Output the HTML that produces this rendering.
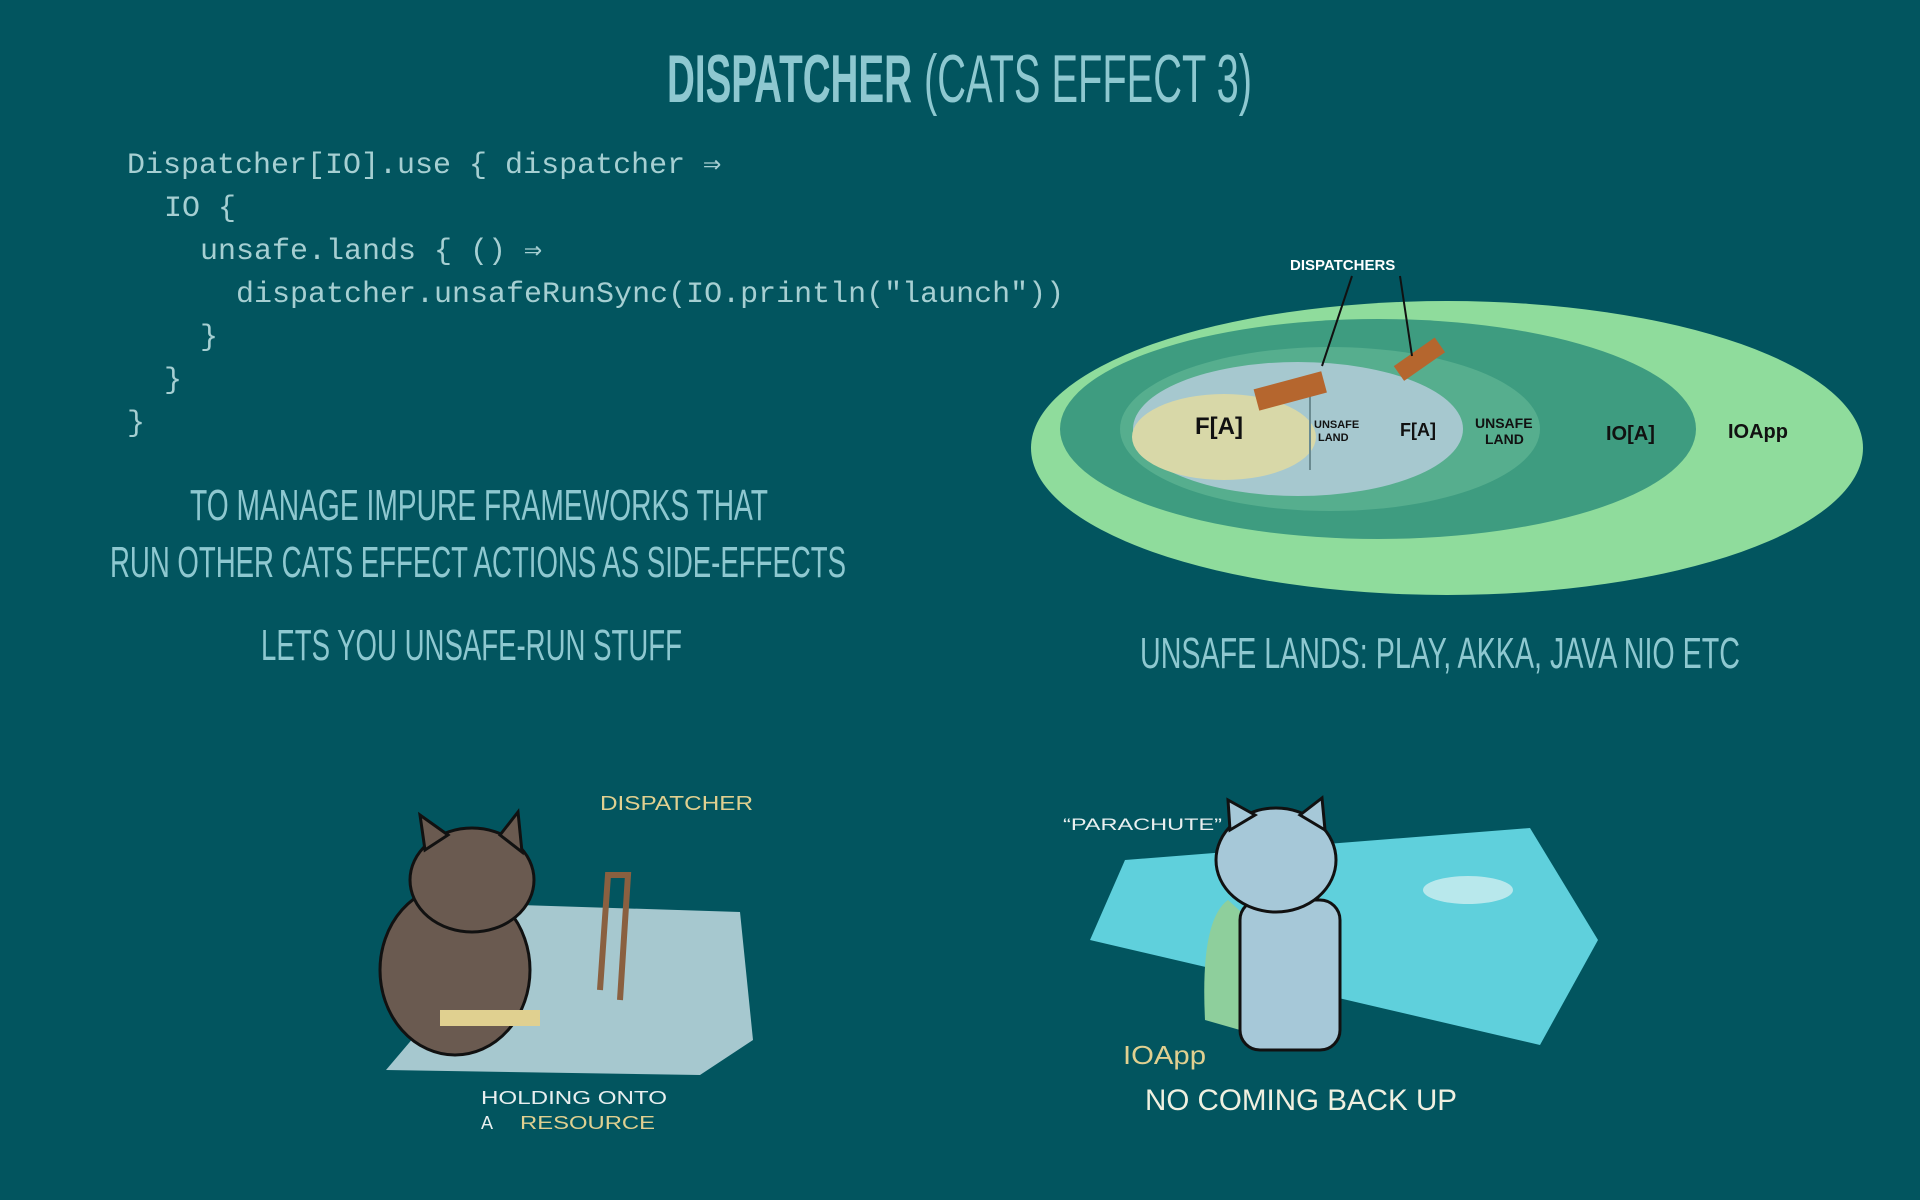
<!DOCTYPE html>
<html><head><meta charset="utf-8"><style>
html,body{margin:0;padding:0;background:#02555f;width:1920px;height:1200px;overflow:hidden}
svg{position:absolute;left:0;top:0}
</style></head><body>
<svg width="1920" height="1200" viewBox="0 0 1920 1200" xmlns="http://www.w3.org/2000/svg">
<rect width="1920" height="1200" fill="#02555f"/>
<g font-family="Liberation Sans Narrow, Liberation Sans, sans-serif" fill="#8ec8d0">
<text x="667" y="102" font-size="68" font-weight="bold" textLength="245" lengthAdjust="spacingAndGlyphs">DISPATCHER</text>
<text x="924" y="102" font-size="68" textLength="328" lengthAdjust="spacingAndGlyphs">(CATS EFFECT 3)</text>
<text x="190" y="520" font-size="44" textLength="578" lengthAdjust="spacingAndGlyphs">TO MANAGE IMPURE FRAMEWORKS THAT</text>
<text x="110" y="577" font-size="44" textLength="736" lengthAdjust="spacingAndGlyphs">RUN OTHER CATS EFFECT ACTIONS AS SIDE-EFFECTS</text>
<text x="261" y="660" font-size="44" textLength="421" lengthAdjust="spacingAndGlyphs">LETS YOU UNSAFE-RUN STUFF</text>
<text x="1140" y="668" font-size="44" textLength="600" lengthAdjust="spacingAndGlyphs">UNSAFE LANDS: PLAY, AKKA, JAVA NIO ETC</text>
</g>
<g font-family="Liberation Mono, DejaVu Sans Mono, monospace" font-size="30" fill="#a6cfd2" xml:space="preserve">
<text x="127" y="173">Dispatcher[IO].use { dispatcher ⇒</text>
<text x="164" y="216">IO {</text>
<text x="200" y="259">unsafe.lands { () ⇒</text>
<text x="236" y="302">dispatcher.unsafeRunSync(IO.println("launch"))</text>
<text x="200" y="345">}</text>
<text x="164" y="388">}</text>
<text x="127" y="431">}</text>
</g>
<!-- island -->
<ellipse cx="1447" cy="448" rx="416" ry="147" fill="#8fdc9c"/>
<ellipse cx="1378" cy="429" rx="318" ry="110" fill="#3e9c80"/>
<ellipse cx="1330" cy="429" rx="210" ry="82" fill="#56ae8e"/>
<ellipse cx="1298" cy="429" rx="165" ry="67" fill="#a6c8cf"/>
<ellipse cx="1224" cy="437" rx="92" ry="43" fill="#d8d8a8"/>
<line x1="1310" y1="395" x2="1310" y2="470" stroke="#6a8a90" stroke-width="2"/>
<rect x="1255" y="380" width="70" height="22" fill="#b5662e" transform="rotate(-15 1290 390)"/>
<rect x="1395" y="350" width="50" height="18" fill="#b5662e" transform="rotate(-35 1420 360)"/>
<g font-family="Liberation Sans, sans-serif" font-weight="bold" fill="#111">
<text x="1195" y="434" font-size="24">F[A]</text>
<text x="1314" y="428" font-size="11">UNSAFE</text><text x="1318" y="441" font-size="11">LAND</text>
<text x="1400" y="436" font-size="18">F[A]</text>
<text x="1475" y="428" font-size="14">UNSAFE</text><text x="1485" y="444" font-size="14">LAND</text>
<text x="1606" y="440" font-size="20">IO[A]</text>
<text x="1728" y="438" font-size="20">IOApp</text>
</g>
<text x="1290" y="270" font-family="Liberation Sans, sans-serif" font-size="15" font-weight="bold" fill="#fff">DISPATCHERS</text>
<path d="M1352 276 L1322 366 M1400 276 L1412 356" stroke="#111" stroke-width="2" fill="none"/>
<!-- left illustration -->
<path d="M420 1030 L520 905 L740 912 L753 1040 L700 1075 L386 1070 Z" fill="#a6c8cf"/>
<path d="M600 990 L608 875 L628 875 L620 1000" fill="none" stroke="#8a6040" stroke-width="6"/>
<ellipse cx="455" cy="970" rx="75" ry="85" fill="#6a5a50" stroke="#111" stroke-width="3"/>
<ellipse cx="472" cy="880" rx="62" ry="52" fill="#6a5a50" stroke="#111" stroke-width="3"/>
<path d="M425 850 L420 815 L448 835 Z M500 835 L518 812 L522 852 Z" fill="#6a5a50" stroke="#111" stroke-width="3"/>
<rect x="440" y="1010" width="100" height="16" fill="#e0d090"/>
<g font-family="Liberation Sans, sans-serif" fill="#e0d090">
<text x="600" y="810" font-size="20" textLength="153" lengthAdjust="spacingAndGlyphs">DISPATCHER</text>
<text x="481" y="1104" font-size="18" fill="#e8efef" textLength="186" lengthAdjust="spacingAndGlyphs">HOLDING ONTO</text>
<text x="481" y="1129" font-size="18" fill="#e8efef">A</text>
<text x="520" y="1129" font-size="18" textLength="135" lengthAdjust="spacingAndGlyphs">RESOURCE</text>
</g>
<!-- right illustration -->
<path d="M1125 860 L1530 828 L1598 940 L1540 1045 L1090 940 Z" fill="#5fd0dc"/>
<ellipse cx="1468" cy="890" rx="45" ry="14" fill="#b8e8ec"/>
<path d="M1228 900 Q1200 920 1205 1020 L1240 1030 L1250 920 Z" fill="#8ecf9c"/>
<rect x="1240" y="900" width="100" height="150" rx="20" fill="#a6c8d8" stroke="#111" stroke-width="3"/>
<ellipse cx="1276" cy="860" rx="60" ry="52" fill="#a6c8d8" stroke="#111" stroke-width="3"/>
<path d="M1230 830 L1228 800 L1255 815 Z M1300 815 L1322 798 L1325 830 Z" fill="#a6c8d8" stroke="#111" stroke-width="3"/>
<g font-family="Liberation Sans, sans-serif">
<text x="1063" y="830" font-size="17" fill="#e8efef" textLength="159" lengthAdjust="spacingAndGlyphs">“PARACHUTE”</text>
<text x="1123" y="1064" font-size="26" fill="#e0d090" textLength="83" lengthAdjust="spacingAndGlyphs">IOApp</text>
<text x="1145" y="1110" font-size="30" fill="#f0f0e0" textLength="312" lengthAdjust="spacingAndGlyphs">NO COMING BACK UP</text>
</g>
</svg>
</body></html>
